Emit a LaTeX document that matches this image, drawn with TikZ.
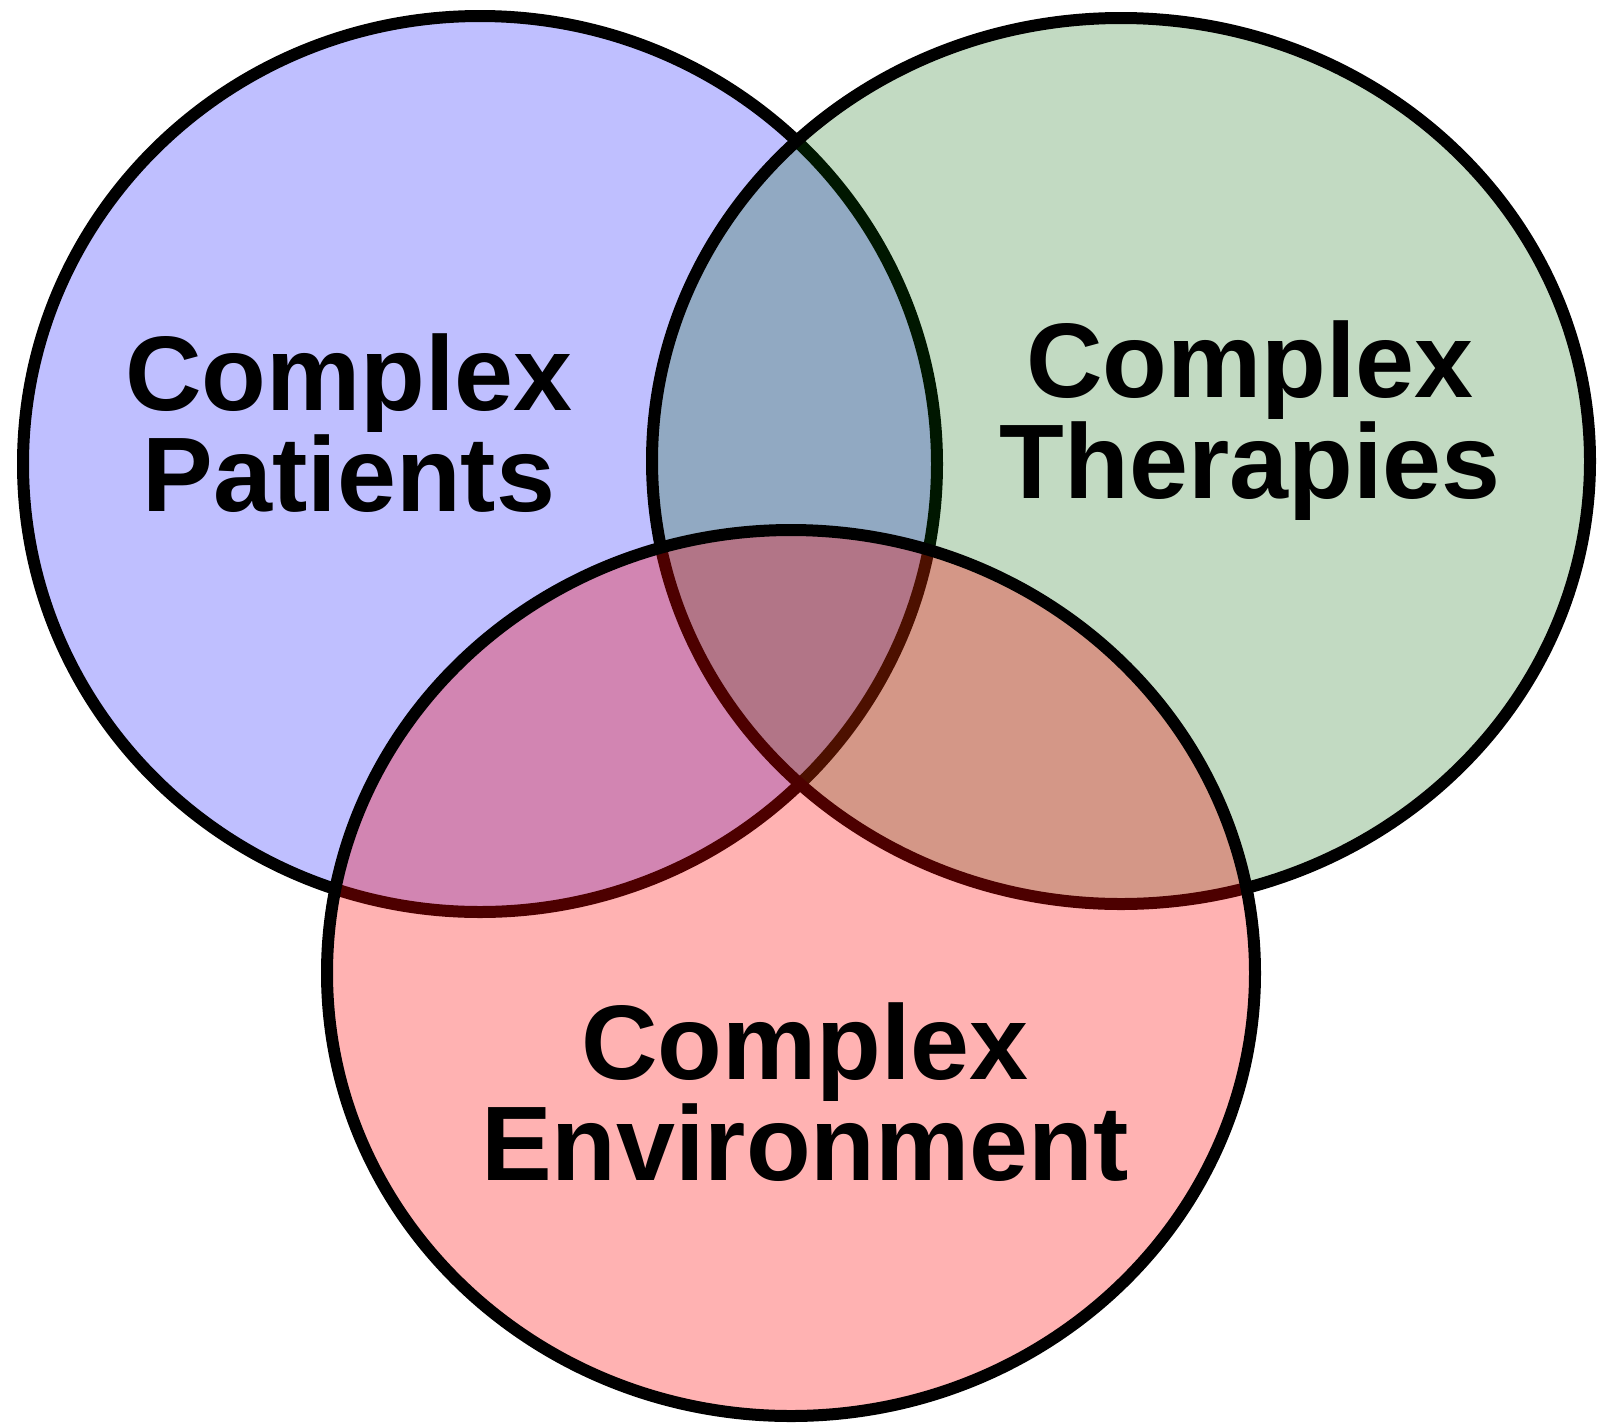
\documentclass[tikz,border=0pt]{standalone}
\usepackage{fontspec}
\setmainfont{Liberation Sans}
\begin{document}
\begin{tikzpicture}[x=1pt,y=-1pt,
  ring/.style={draw=black,line width=12pt},
  label/.style={anchor=base,inner sep=0pt,font=\fontsize{106}{101}\selectfont\bfseries}]
\useasboundingbox (0,0) rectangle (1614,1425);
% the three sets, each later one laid over the others with a see-through fill
\path[ring,fill={rgb,255:red,191;green,191;blue,255}]
  (480,464) ellipse [x radius=457,y radius=448];
\path[ring,fill={rgb,255:red,0;green,100;blue,0},fill opacity=0.24]
  (1121,461) ellipse [x radius=469,y radius=443];
\path[ring,fill=red,fill opacity=0.3]
  (791,973) ellipse [x radius=464,y radius=443];
% set names
\node[label] (p1) at (349,410) {Complex};
\node[label] (p2) at (349,511) {Patients};
\node[label] (t1) at (1250,397) {Complex};
\node[label] (t2) at (1250,498) {Therapies};
\node[label] (e1) at (805,1079) {Complex};
\node[label] (e2) at (805,1180) {Environment};
\end{tikzpicture}
\end{document}
